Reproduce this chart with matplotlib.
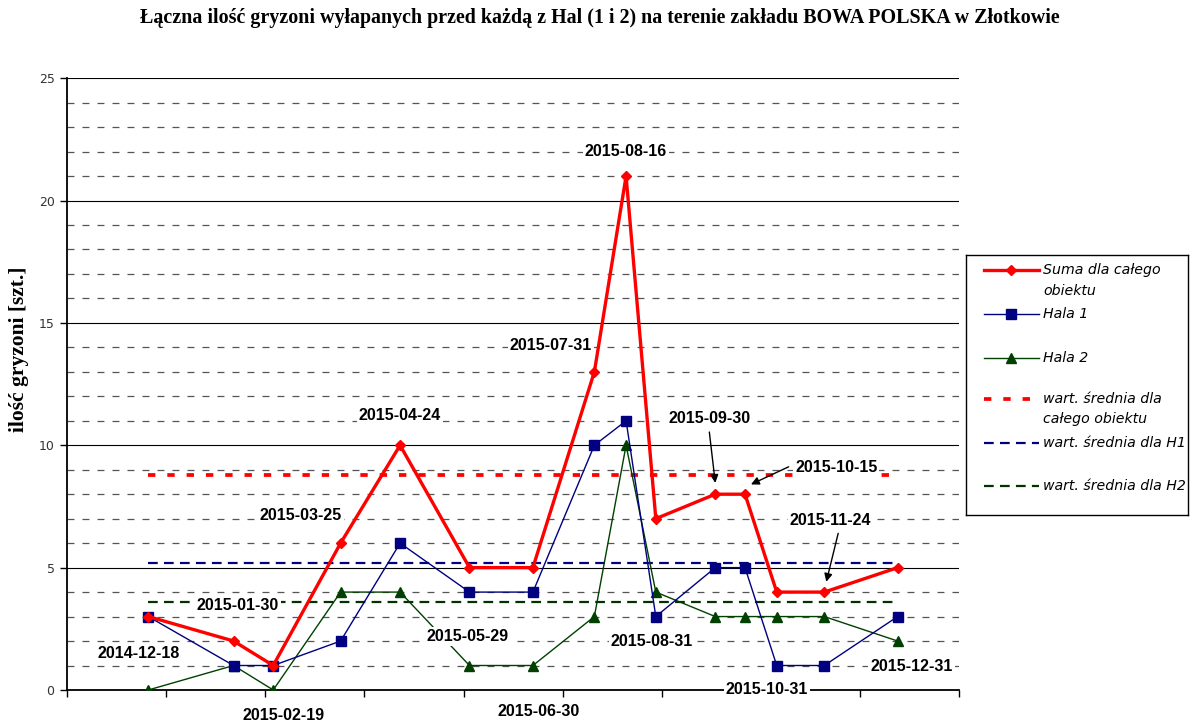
import matplotlib
matplotlib.use("Agg")
import matplotlib.pyplot as plt
import matplotlib.dates as mdates
import numpy as np
from matplotlib.ticker import MultipleLocator, NullFormatter

# --- dane ---------------------------------------------------------------------
daty = ["2014-12-18", "2015-01-30", "2015-02-19", "2015-03-25", "2015-04-24",
        "2015-05-29", "2015-06-30", "2015-07-31", "2015-08-16", "2015-08-31",
        "2015-09-30", "2015-10-15", "2015-10-31", "2015-11-24", "2015-12-31"]
suma = [3, 2, 1, 6, 10, 5, 5, 13, 21, 7, 8, 8, 4, 4, 5]
hala1 = [3, 1, 1, 2, 6, 4, 4, 10, 11, 3, 5, 5, 1, 1, 3]
hala2 = [0, 1, 0, 4, 4, 1, 1, 3, 10, 4, 3, 3, 3, 3, 2]
srednia_suma = 8.8
srednia_h1 = 5.2
srednia_h2 = 3.6

# opisy dat: (tekst, przesunięcie w dniach, y)
opisy = [
    ("2014-12-18", -5.5, 1.5),
    ("2015-01-30", 2, 3.45),
    ("2015-02-19", 5, -1.06),
    ("2015-03-25", -20, 7.15),
    ("2015-04-24", 0.5, 11.2),
    ("2015-05-29", -1, 2.2),
    ("2015-06-30", 3.5, -0.9),
    ("2015-07-31", -22.5, 14.08),
    ("2015-08-16", 0.5, 22.0),
    ("2015-08-31", -2, 2.0),
    ("2015-10-31", -5, 0.0),
    ("2015-12-31", 7, 0.95),
]
# opisy ze strzałkami: (tekst, dx tekstu, y tekstu, dx start, y start, dx grot, y grot)
strzalki = [
    ("2015-09-30", -3, 11.1, -3, 10.54, 0, 8.46),
    ("2015-10-15", 46, 9.1, 22.7, 9.12, 3.7, 8.4),
    ("2015-11-24", 3.5, 6.94, 7.2, 6.4, 1.8, 4.42),
]

x = np.array(daty, dtype="datetime64[D]")
dzien = np.timedelta64(1, "D")

plt.rcParams["lines.scale_dashes"] = False
fig = plt.figure(figsize=(11.91, 7.24), dpi=100)
ax = fig.add_axes([0.0563, 0.047, 0.749, 0.845])

ax.set_xlim(np.datetime64("2014-11-07"), np.datetime64("2016-01-31"))
ax.set_ylim(0, 25)

# siatka
ax.yaxis.set_major_locator(MultipleLocator(5))
ax.yaxis.set_minor_locator(MultipleLocator(1))
ax.grid(axis="y", which="major", color="black", lw=0.8, zorder=0)
ax.grid(axis="y", which="minor", color="#555555", lw=0.9, linestyle=(0, (5.0, 5.8)), zorder=0)
ax.set_axisbelow(True)

ticks = np.arange(np.datetime64("2014-11-07"), np.datetime64("2016-02-01"), 50)
ax.set_xticks(ticks)
ax.xaxis.set_major_formatter(NullFormatter())
ax.tick_params(axis="x", length=5, width=1, direction="out")
ax.tick_params(axis="y", which="major", length=5, width=1, direction="out",
               labelsize=9, labelcolor="#333333", pad=4)
ax.tick_params(axis="y", which="minor", length=0)
for lab in ax.get_yticklabels():
    lab.set_family("DejaVu Sans")

for s in ("top", "right"):
    ax.spines[s].set_visible(False)
ax.spines["left"].set_linewidth(1.3)
ax.spines["bottom"].set_linewidth(1.3)

# linie średnich
ax.plot([x[0], x[-1]], [srednia_suma] * 2, color="#FF0000", lw=2.7,
        linestyle=(0, (5.3, 8.6)), solid_capstyle="butt", zorder=2)
ax.plot([x[0], x[-1]], [srednia_h1] * 2, color="#000080", lw=1.6,
        linestyle=(0, (7.0, 4.5)), zorder=2)
ax.plot([x[0], x[-1]], [srednia_h2] * 2, color="#003300", lw=1.6,
        linestyle=(0, (7.0, 4.5)), zorder=2)

# serie
ax.plot(x, hala2, color="#004000", lw=1.0, marker="^", ms=7.5, zorder=3)
ax.plot(x, hala1, color="#000080", lw=1.0, marker="s", ms=7, zorder=4)
ax.plot(x, suma, color="#FF0000", lw=2.4, marker="D", ms=5, zorder=5)

box = dict(boxstyle="square,pad=0.12", fc="white", ec="none")
fnt = dict(family="Liberation Sans", weight="bold", fontsize=11.5)
for tekst, dx, y in opisy:
    ax.text(np.datetime64(tekst) + dx * dzien, y, tekst, ha="center", va="center",
            bbox=box, zorder=10, clip_on=False, **fnt)
for tekst, dx, y, sx, sy, gx, gy in strzalki:
    d = np.datetime64(tekst)
    ax.text(d + dx * dzien, y, tekst, ha="center", va="center", bbox=box, zorder=10, **fnt)
    ax.annotate("", xy=(mdates.date2num(d + gx * dzien), gy),
                xytext=(mdates.date2num(d + sx * dzien), sy),
                arrowprops=dict(arrowstyle="-|>", color="black", lw=1.0,
                                mutation_scale=12, shrinkA=0, shrinkB=0), zorder=11)

fig.text(0.504, 0.975, "Łączna ilość gryzoni wyłapanych przed każdą z Hal (1 i 2) na terenie zakładu BOWA POLSKA w Złotkowie",
         ha="center", va="center", family="Liberation Serif", weight="bold", fontsize=14.4)
fig.text(0.016, 0.518, "ilość gryzoni [szt.]", rotation=90, ha="center", va="center",
         family="Liberation Serif", weight="bold", fontsize=15.5)

# legenda
lax = fig.add_axes([0.811, 0.289, 0.1865, 0.359])
lax.set_xlim(0, 222)
lax.set_ylim(260, 0)
lax.set_xticks([])
lax.set_yticks([])
for s in lax.spines.values():
    s.set_linewidth(1.0)
lfnt = dict(family="DejaVu Sans", style="italic", fontsize=10.2, va="center", ha="left")
h0, h1, tx = 18, 73, 77
lax.plot([h0, h1], [15, 15], color="#FF0000", lw=2.4)
lax.plot([(h0 + h1) / 2], [15], color="#FF0000", marker="D", ms=5)
lax.text(tx, 15, "Suma dla całego", **lfnt)
lax.text(tx, 36, "obiektu", **lfnt)
lax.plot([h0, h1], [59, 59], color="#000080", lw=1.0)
lax.plot([(h0 + h1) / 2], [59], color="#000080", marker="s", ms=7)
lax.text(tx, 59, "Hala 1", **lfnt)
lax.plot([h0, h1], [103, 103], color="#004000", lw=1.0)
lax.plot([(h0 + h1) / 2], [103], color="#004000", marker="^", ms=7.5)
lax.text(tx, 103, "Hala 2", **lfnt)
lax.plot([h0, h1], [144, 144], color="#FF0000", lw=2.7, linestyle=(0, (5.3, 8.6)))
lax.text(tx, 144, "wart. średnia dla", **lfnt)
lax.text(tx, 164, "całego obiektu", **lfnt)
lax.plot([h0, h1], [188, 188], color="#000080", lw=1.6, linestyle=(0, (7.0, 4.5)))
lax.text(tx, 188, "wart. średnia dla H1", **lfnt)
lax.plot([h0, h1], [231, 231], color="#003300", lw=1.6, linestyle=(0, (7.0, 4.5)))
lax.text(tx, 231, "wart. średnia dla H2", **lfnt)

fig.savefig("out.png", dpi=100)
